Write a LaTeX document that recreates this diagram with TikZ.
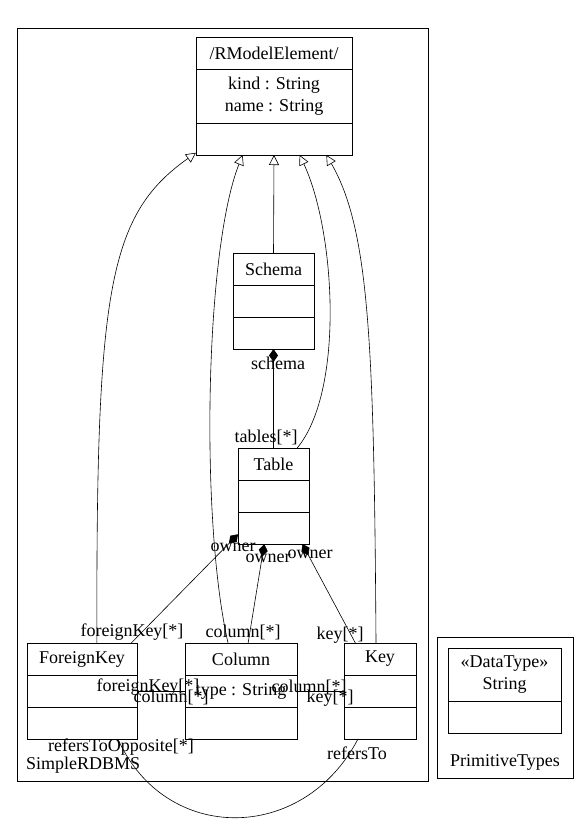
\documentclass[tikz,border=0pt]{standalone}
\usepackage{fontspec}
\setmainfont{Liberation Serif}
\usetikzlibrary{positioning,arrows.meta}
\begin{document}
\begin{tikzpicture}[x=1pt, y=-1pt,
    every node/.style={font=\fontsize{18}{21.5}\selectfont, inner sep=0pt},
    part/.style={draw, line width=0.8pt, outer sep=0pt, minimum height=32pt, align=center},
    pkg/.style={draw, line width=0.8pt},
    gen/.style={-{Triangle[open, length=10pt, width=10pt]}, line width=0.6pt},
    comp/.style={{Diamond[length=13pt, width=9pt]}-, line width=0.6pt}]
\useasboundingbox (0,0) rectangle (588,832);
% packages
\node[pkg, minimum width=411pt, minimum height=753pt] (rdbms) at (222.5,404.5) {};
\node[pkg, minimum width=136pt, minimum height=141pt] (prim) at (505,707.5) {};
% classes
\node[part, minimum width=156pt] (elemA) at (274,53) {/RModelElement/};
\node[part, minimum width=156pt, minimum height=54pt, below=0pt of elemA] (elemB) {kind : String\\name : String};
\node[part, minimum width=156pt, below=0pt of elemB] (elemC) {};
\node[part, minimum width=81pt] (schA) at (273.5,269) {Schema};
\node[part, minimum width=81pt, below=0pt of schA] (schB) {};
\node[part, minimum width=81pt, below=0pt of schB] (schC) {};
\node[part, minimum width=71pt] (tabA) at (273.5,464) {Table};
\node[part, minimum width=71pt, below=0pt of tabA] (tabB) {};
\node[part, minimum width=71pt, below=0pt of tabB] (tabC) {};
\node[part, minimum width=110pt] (fkA) at (82,659) {ForeignKey};
\node[part, minimum width=110pt, below=0pt of fkA] (fkB) {};
\node[part, minimum width=110pt, below=0pt of fkB] (fkC) {};
\node[part, minimum width=112pt] (colA) at (241,659) {Column};
\node[part, minimum width=112pt, below=0pt of colA] (colB) {type : String};
\node[part, minimum width=112pt, below=0pt of colB] (colC) {};
\node[part, minimum width=72pt] (keyA) at (380,659) {Key};
\node[part, minimum width=72pt, below=0pt of keyA] (keyB) {};
\node[part, minimum width=72pt, below=0pt of keyB] (keyC) {};
\node[part, minimum width=113pt, minimum height=53pt] (strA) at (504.5,674.5) {«DataType»\\String};
\node[part, minimum width=113pt, below=0pt of strA] (strB) {};
% labels
\node (lschema) at (278,363) {schema};
\node (ltables) at (266,437) {tables[*]};
\node (lownerfk) at (233,547) {owner};
\node (lownercol) at (268,558) {owner};
\node (lownerkey) at (310,554) {owner};
\node (lfk) at (132,632) {foreignKey[*]};
\node (lcol) at (243,632) {column[*]};
\node (lkey) at (340,635) {key[*]};
\node (lfkcol) at (148,687) {foreignKey[*]};
\node (lcolfk) at (171,697) {column[*]};
\node (lcolkey) at (309,687) {column[*]};
\node (lkeycol) at (330,698) {key[*]};
\node (lopp) at (121,747) {refersToOpposite[*]};
\node (lrefers) at (357,753) {refersTo};
\node[anchor=west] (lrdbms) at (26,765) {SimpleRDBMS};
\node (lprim) at (505,762) {PrimitiveTypes};
% generalizations
\draw[gen] (schA.north) -- (elemC.south);
\draw[gen] (fkA.47) .. controls (96,290) and (108,215) .. (elemC.190);
\draw[gen] (colA.129) .. controls (200,520) and (205,250) .. (elemC.207);
\draw[gen] (tabA.34) .. controls (345,390) and (335,230) .. (elemC.328);
\draw[gen] (keyA.104) .. controls (374,350) and (370,230) .. (elemC.343);
% compositions
\foreach \from/\to in {schC.south/tabA.north, tabC.190/fkA.18, tabC.240/colA.66, tabC.331/keyA.147}
    \draw[comp] (\from) -- (\to);
% associations
\foreach \from/\to in {fkB.east/colB.west, colB.east/keyB.west}
    \draw[line width=0.6pt] (\from) -- (\to);
\draw[line width=0.6pt] (fkC.336) .. controls (165,844) and (303,844) .. (keyC.216);
\end{tikzpicture}
\end{document}
